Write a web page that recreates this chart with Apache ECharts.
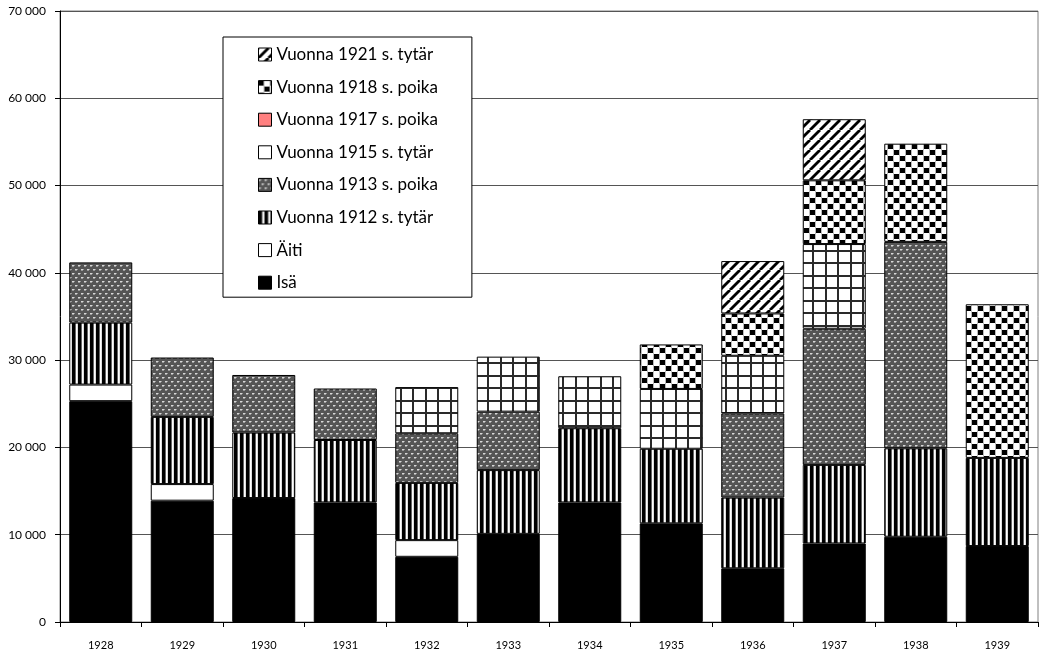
<!DOCTYPE html>
<html>
<head>
<meta charset="utf-8">
<script src="https://cdn.jsdelivr.net/npm/echarts@6/dist/echarts.min.js"></script>
<style>
html,body{margin:0;padding:0;background:#fff;}
#chart{width:1039px;height:656px;}
</style>
</head>
<body>
<div id="chart"></div>
<script>
// ---- Data ----
const years = ['1928','1929','1930','1931','1932','1933','1934','1935','1936','1937','1938','1939'];
const isa      = [25300, 13900, 14200, 13700, 7470, 10100, 13700, 11300, 6150, 9000, 9770, 8700];
const aiti     = [1900, 1900, null, null, 1910, null, null, null, null, null, null, null];
const tytar1912 = [7100, 7700, 7500, 7150, 6560, 7300, 8500, 8550, 8100, 9000, 10130, 10100];
const poika1913 = [6900, 6800, 6600, 5900, 5680, 6700, null, null, 9650, 15600, 23650, null];
const tytar1915 = [null, null, null, null, 5290, 6300, 5950, 6850, 6600, 9700, null, null];
const poika1917 = [null, null, null, null, null, null, null, null, null, null, null, null];
const poika1918 = [null, null, null, null, null, null, null, 5100, 4850, 7300, 11250, 17600];
const tytar1921 = [null, null, null, null, null, null, null, null, 6000, 7000, null, null];
const yTicks = ['0','10 000','20 000','30 000','40 000','50 000','60 000','70 000'];
const names = ['Isä','Äiti','Vuonna 1912 s. tytär','Vuonna 1913 s. poika','Vuonna 1915 s. tytär','Vuonna 1917 s. poika','Vuonna 1918 s. poika','Vuonna 1921 s. tytär'];

// ---- Pattern tiles ----
function tile(w, h, draw) {
  const c = document.createElement('canvas');
  c.width = w; c.height = h;
  const ctx = c.getContext('2d');
  draw(ctx, w, h);
  return {image: c, repeat: 'repeat'};
}
const patVertical = tile(6, 6, (ctx) => {
  ctx.fillStyle = '#fff'; ctx.fillRect(0,0,6,6);
  ctx.fillStyle = '#000'; ctx.fillRect(0,0,3,6);
  ctx.fillStyle = '#666'; ctx.fillRect(3,0,1,6);
  ctx.fillStyle = '#ddd'; ctx.fillRect(5,0,1,6);
});
const patDots = tile(6, 8, (ctx) => {
  ctx.fillStyle = '#555'; ctx.fillRect(0,0,6,8);
  ctx.fillStyle = '#d8d8d8';
  ctx.fillRect(0,1,2,1); ctx.fillRect(3,5,2,1);
  ctx.fillStyle = '#999';
  ctx.fillRect(2,1,1,1); ctx.fillRect(5,5,1,1);
  ctx.fillRect(0,2,2,1); ctx.fillRect(3,6,2,1);
});
const patGrid = tile(25, 25, (ctx) => {
  ctx.fillStyle = '#fff'; ctx.fillRect(0,0,25,25);
  ctx.fillStyle = '#2a2a2a';
  ctx.fillRect(0,0,2,25); ctx.fillRect(12,0,2,25);
  ctx.fillRect(0,0,25,2); ctx.fillRect(0,12,25,2);
});
const patCheck = tile(12, 12, (ctx) => {
  ctx.fillStyle = '#fff'; ctx.fillRect(0,0,12,12);
  ctx.fillStyle = '#000';
  ctx.fillRect(0,0,5,5); ctx.fillRect(6,6,5,5);
  ctx.fillStyle = '#bbb';
  ctx.fillRect(5,0,1,12); ctx.fillRect(11,0,1,12);
});
const patDiag = tile(10, 10, (ctx) => {
  ctx.fillStyle = '#fff'; ctx.fillRect(0,0,10,10);
  ctx.strokeStyle = '#000'; ctx.lineWidth = 2.8;
  for (const k of [-1,0,1]) {
    ctx.beginPath(); ctx.moveTo(k*10, 10); ctx.lineTo(k*10+10, 0); ctx.stroke();
  }
});

const fills = ['#000000', '#ffffff', patVertical, patDots, patGrid, '#ff8080', patCheck, patDiag];
const legendFills = ['#000000', '#ffffff', patVertical, patDots, '#ffffff', '#ff8080', patCheck, patDiag];
const dataSets = [isa, aiti, tytar1912, poika1913, tytar1915, poika1917, poika1918, tytar1921];

const series = names.map((n, i) => ({
  name: n,
  type: 'bar',
  stack: 'total',
  barWidth: 63,
  data: dataSets[i],
  itemStyle: {color: fills[i], borderColor: '#000', borderWidth: 1},
  emphasis: {disabled: true}
}));

const chart = echarts.init(document.getElementById('chart'), null, {renderer: 'canvas'});
chart.setOption({
  animation: false,
  backgroundColor: '#fff',
  textStyle: {fontFamily: 'Lato'},
  grid: {left: 60, right: 1, top: 11, bottom: 34, show: true, borderColor: '#808080', borderWidth: 1},
  legend: {
    orient: 'vertical',
    left: 223, top: 37,
    padding: [9, 34, 6, 35],
    borderColor: '#000', borderWidth: 1, backgroundColor: '#fff',
    itemWidth: 13, itemHeight: 13, itemGap: 15.6,
    icon: 'rect',
    itemStyle: {borderColor: '#000', borderWidth: 1},
    textStyle: {fontFamily: 'Lato', fontSize: 17, lineHeight: 16, color: '#000'},
    selectedMode: false,
    data: names.map((n, i) => ({name: n, itemStyle: {color: legendFills[i], borderColor: '#000', borderWidth: 1}})).reverse()
  },
  xAxis: {
    type: 'category',
    data: years,
    axisLine: {lineStyle: {color: '#000', width: 1}},
    axisTick: {show: true, length: 5, lineStyle: {color: '#000'}},
    axisLabel: {fontFamily: 'Lato', fontSize: 11, color: '#000', margin: 18}
  },
  yAxis: {
    type: 'value',
    min: 0, max: 70000, interval: 10000,
    axisLine: {show: true, lineStyle: {color: '#000', width: 1}},
    axisTick: {show: true, length: 5, lineStyle: {color: '#000'}},
    axisLabel: {fontFamily: 'Lato', fontSize: 12, color: '#000', margin: 14,
      formatter: (v) => yTicks[Math.round(v / 10000)]},
    splitLine: {show: true, lineStyle: {color: '#555', width: 1}}
  },
  series: series
});
</script>
</body>
</html>
